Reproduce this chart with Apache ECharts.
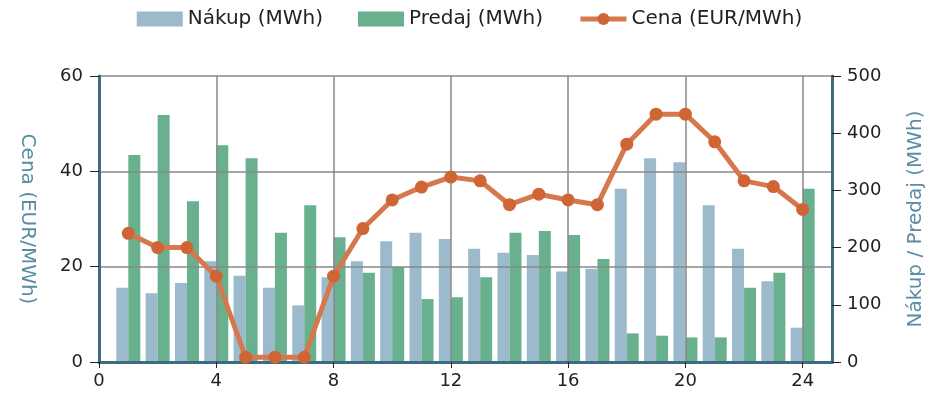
<!DOCTYPE html>
<html>
<head>
<meta charset="utf-8">
<title>Nákup / Predaj / Cena</title>
<script src="https://cdn.jsdelivr.net/npm/echarts@6/dist/echarts.min.js"></script>
<style>
  html, body { margin: 0; padding: 0; background: #fff; }
  #charts1 { width: 939px; height: 400px; }
</style>
</head>
<body>
<div class="charts" id="charts1"></div>
<script>
  // hodiny dna
  var hours = [1, 2, 3, 4, 5, 6, 7, 8, 9, 10, 11, 12, 13, 14, 15, 16, 17, 18, 19, 20, 21, 22, 23, 24];
  // Nákup (MWh)
  var nakup = [130, 120, 138, 176, 151, 130, 99, 148, 176, 211, 226, 215, 198, 191, 187, 158, 163, 303, 356, 349, 274, 198, 141, 60];
  // Predaj (MWh)
  var predaj = [362, 432, 281, 379, 356, 226, 274, 218, 156, 166, 110, 113, 148, 226, 229, 222, 180, 50, 46, 43, 43, 130, 156, 303];
  // Cena (EUR/MWh)
  var cena = [27, 24, 24, 18, 1, 1, 1, 18, 28, 34, 36.7, 38.8, 38, 33, 35.2, 34, 33, 45.7, 52, 52, 46.2, 38, 36.8, 32];
  // osi
  var xTicks = [0, 4, 8, 12, 16, 20, 24];
  var cenaTicks = [0, 20, 40, 60];
  var mwhTicks = [0, 100, 200, 300, 400, 500];

  var font = 'DejaVu Sans';
  var axisColor = '#3f6b80';
  var nameColor = '#5a8ca5';

  function pairs(values) {
    return hours.map(function (h, i) {
      return [h, values[i]];
    });
  }

  var option = {
    animation: false,
    textStyle: { fontFamily: font },
    grid: {
      left: 99,
      right: 107,
      top: 76,
      bottom: 38,
    },
    legend: {
      top: 4,
      left: 'center',
      itemWidth: 46,
      itemHeight: 15,
      itemGap: 35,
      textStyle: { fontFamily: font, fontSize: 20, color: '#222' },
      data: [
        { name: 'Nákup (MWh)', icon: 'rect' },
        { name: 'Predaj (MWh)', icon: 'rect' },
        { name: 'Cena (EUR/MWh)', lineStyle: { width: 5, color: '#d5784d' } }
      ]
    },
    xAxis: {
      type: 'value',
      min: 0,
      max: 25,
      interval: xTicks[1] - xTicks[0],
      z: 3,
      axisLine: { lineStyle: { color: axisColor, width: 3 } },
      axisTick: { show: true, length: 6, lineStyle: { color: '#222' } },
      axisLabel: {
        showMaxLabel: false,
        margin: 10,
        fontFamily: font, fontSize: 18, color: '#222'
      },
      splitLine: { show: true, lineStyle: { color: '#888', width: 1.5 } }
    },
    yAxis: [
      {
        type: 'value',
        min: cenaTicks[0],
        max: cenaTicks[cenaTicks.length - 1],
        interval: cenaTicks[1] - cenaTicks[0],
        position: 'left',
        z: 3,
        name: 'Cena (EUR/MWh)',
        nameLocation: 'middle',
        nameRotate: -90,
        nameGap: 62,
        nameTextStyle: { fontFamily: font, fontSize: 20, color: nameColor },
        axisLine: { show: true, lineStyle: { color: axisColor, width: 3 } },
        axisTick: { show: true, length: 9, lineStyle: { color: '#222' } },
        axisLabel: { margin: 16, fontFamily: font, fontSize: 18, color: '#222' },
        splitLine: { show: true, lineStyle: { color: '#888', width: 1.5 } }
      },
      {
        type: 'value',
        min: mwhTicks[0],
        max: mwhTicks[mwhTicks.length - 1],
        interval: mwhTicks[1] - mwhTicks[0],
        position: 'right',
        z: 3,
        name: 'Nákup / Predaj (MWh)',
        nameLocation: 'middle',
        nameRotate: 90,
        nameGap: 74,
        nameTextStyle: { fontFamily: font, fontSize: 20, color: nameColor },
        axisLine: { show: true, lineStyle: { color: axisColor, width: 3 } },
        axisTick: { show: true, length: 9, lineStyle: { color: '#222' } },
        axisLabel: { margin: 15, fontFamily: font, fontSize: 18, color: '#222' },
        splitLine: { show: false }
      }
    ],
    series: [
      {
        name: 'Nákup (MWh)',
        type: 'bar',
        yAxisIndex: 1,
        data: pairs(nakup),
        barWidth: 12,
        barGap: '0%',
        z: 2,
        itemStyle: { color: '#9bbbcc' }
      },
      {
        name: 'Predaj (MWh)',
        type: 'bar',
        yAxisIndex: 1,
        data: pairs(predaj),
        barWidth: 12,
        barGap: '0%',
        z: 2,
        itemStyle: { color: '#69b08f' }
      },
      {
        name: 'Cena (EUR/MWh)',
        type: 'line',
        yAxisIndex: 0,
        data: pairs(cena),
        z: 5,
        symbol: 'circle',
        symbolSize: 13,
        lineStyle: { color: '#d5784d', width: 5 },
        itemStyle: { color: '#cf6535' }
      }
    ]
  };

  var myChart = echarts.init(document.getElementById('charts1'));
  myChart.setOption(option);
</script>
</body>
</html>
